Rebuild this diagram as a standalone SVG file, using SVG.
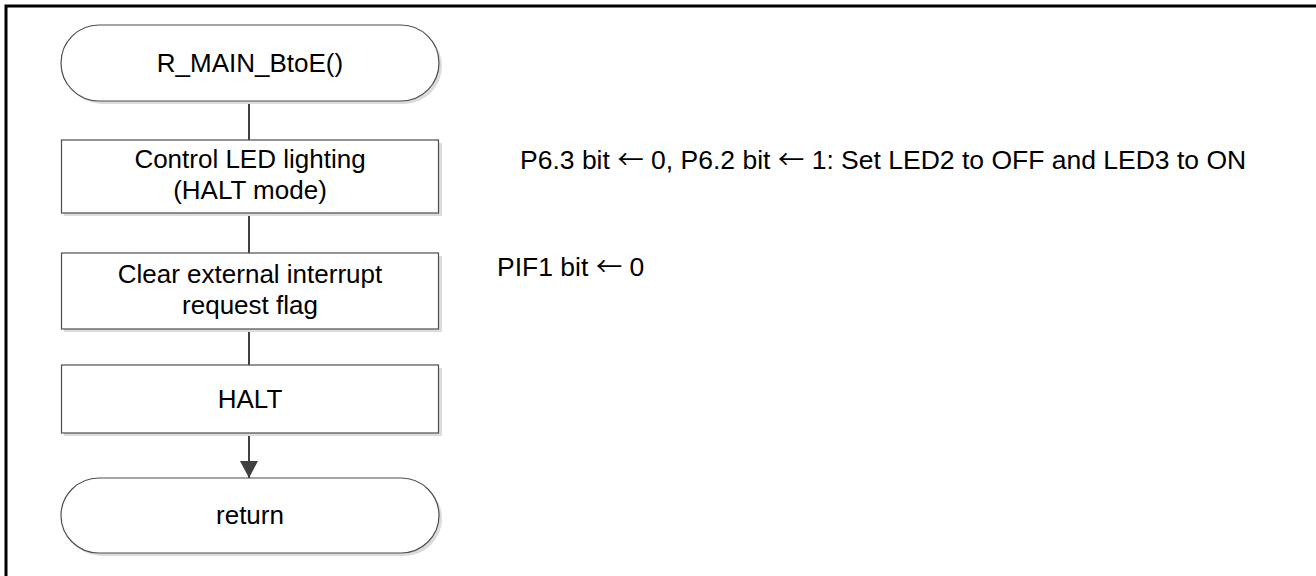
<svg xmlns="http://www.w3.org/2000/svg" width="1316" height="576" viewBox="0 0 1316 576">
<defs>
<style>
.shape{fill:#fff;stroke:#4d4d4d;stroke-width:1.2}
.shadow{fill:#dcdcdc;stroke:none}
.t{font-family:"Liberation Sans",Arial,sans-serif;font-size:26px;fill:#000}
.n{font-size:26.5px}
.c{text-anchor:middle}
.ar{font-family:"Noto Sans CJK JP","DejaVu Sans",sans-serif}
.conn{stroke:#404040;stroke-width:2;fill:none}
</style>
<marker id="ah" markerUnits="userSpaceOnUse" markerWidth="18" markerHeight="20" refX="17" refY="9" orient="auto">
<path d="M0,0 L17,9 L0,18 Z" fill="#404040"/>
</marker>
</defs>
<rect width="1316" height="576" fill="#fff"/>
<path d="M6,576 V6 H1316" fill="none" stroke="#000" stroke-width="3"/>
<g id="connectors">
<line class="conn" x1="249" y1="101" x2="249" y2="140"/>
<line class="conn" x1="249" y1="213" x2="249" y2="253"/>
<line class="conn" x1="249" y1="329" x2="249" y2="365"/>
<line class="conn" x1="249" y1="433" x2="249" y2="478" marker-end="url(#ah)"/>
</g>
<g id="start">
<rect class="shadow" x="64" y="28" width="378" height="76" rx="38"/>
<rect class="shape" x="61" y="25" width="378" height="76" rx="38"/>
<text class="t c" x="250" y="72">R_MAIN_BtoE()</text>
</g>
<g id="led">
<rect class="shadow" x="64" y="143" width="378" height="73"/>
<rect class="shape" x="61.5" y="140" width="377" height="73"/>
<text class="t c" x="250" y="168">Control LED lighting</text>
<text class="t c" x="250" y="199">(HALT mode)</text>
</g>
<g id="clear">
<rect class="shadow" x="64" y="256" width="378" height="76"/>
<rect class="shape" x="61.5" y="253" width="377" height="76"/>
<text class="t c" x="250" y="283">Clear external interrupt</text>
<text class="t c" x="250" y="314">request flag</text>
</g>
<g id="halt">
<rect class="shadow" x="64" y="368" width="378" height="68"/>
<rect class="shape" x="61.5" y="365" width="377" height="68"/>
<text class="t c" x="250" y="408">HALT</text>
</g>
<g id="return">
<rect class="shadow" x="64" y="481" width="378" height="75" rx="38"/>
<rect class="shape" x="61" y="478" width="378" height="75" rx="38"/>
<text class="t c" x="250" y="524">return</text>
</g>
<g id="notes">
<text class="t n" x="520" y="169">P6.3 bit <tspan class="ar">←</tspan> 0, P6.2 bit <tspan class="ar">←</tspan> 1: Set LED2 to OFF and LED3 to ON</text>
<text class="t n" x="497" y="276">PIF1 bit <tspan class="ar">←</tspan> 0</text>
</g>
</svg>
